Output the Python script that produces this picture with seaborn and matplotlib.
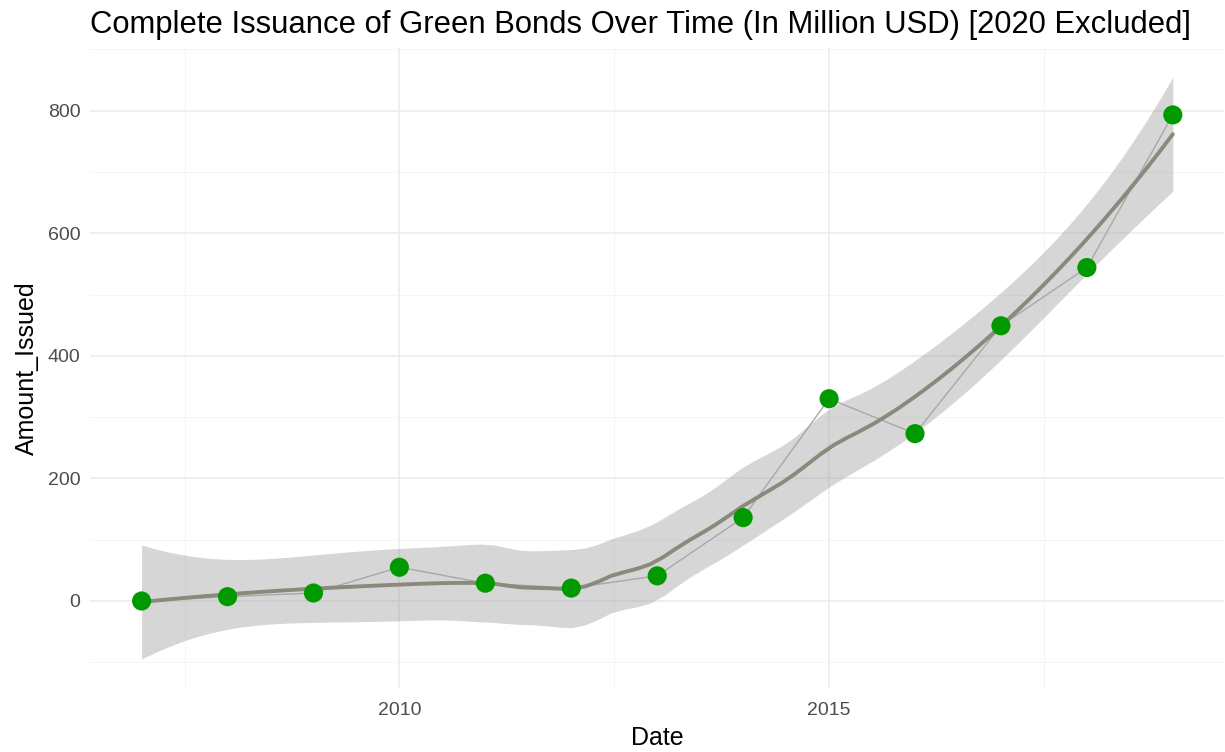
import math
import numpy as np
import pandas as pd
import matplotlib
matplotlib.use("Agg")
import matplotlib.pyplot as plt
from matplotlib.ticker import MultipleLocator
import seaborn as sns

# ---- data ----
years = [2007, 2008, 2009, 2010, 2011, 2012, 2013, 2014, 2015, 2016, 2017, 2018, 2019]
amount_issued = [0, 7, 13, 55, 29, 21, 41, 136, 330, 273, 449, 544, 793]
title = "Complete Issuance of Green Bonds Over Time (In Million USD) [2020 Excluded]"

df = pd.DataFrame({"Date": years, "Amount_Issued": amount_issued})


# ---- loess (degree 2, span 0.75) with confidence band, like geom_smooth ----
def loess_operator(x, xs, span=0.75):
    n = len(x)
    q = int(np.floor(n * span))
    L = np.zeros((len(xs), n))
    for i, x0 in enumerate(xs):
        d = np.abs(x - x0)
        h = np.sort(d)[q - 1] * 1.0000001
        w = np.clip(1 - (d / h) ** 3, 0, None) ** 3
        X = np.column_stack([np.ones(n), x - x0, (x - x0) ** 2])
        W = np.diag(w)
        A = X.T @ W @ X
        L[i] = np.linalg.solve(A, X.T @ W)[0]
    return L


def t_quantile(p, dof):
    c = math.gamma((dof + 1) / 2) / (math.sqrt(dof * math.pi) * math.gamma(dof / 2))
    t = np.linspace(0, 20, 200001)
    pdf = c * (1 + t ** 2 / dof) ** (-(dof + 1) / 2)
    cdf = 0.5 + np.concatenate([[0], np.cumsum((pdf[1:] + pdf[:-1]) / 2 * np.diff(t))])
    return float(np.interp(p, cdf, t))


x = df["Date"].to_numpy(float)
y = df["Amount_Issued"].to_numpy(float)
Lhat = loess_operator(x, x)
resid = y - Lhat @ y
IL = np.eye(len(x)) - Lhat
M = IL.T @ IL
one_delta = np.trace(M)
two_delta = np.trace(M @ M)
sigma = math.sqrt(np.sum(resid ** 2) / one_delta)
rdf = one_delta ** 2 / two_delta
tq = t_quantile(0.975, rdf)

xs = np.linspace(x.min(), x.max(), 80)
Ls = loess_operator(x, xs)
fit = Ls @ y
se = sigma * np.sqrt(np.sum(Ls ** 2, axis=1))
smooth = pd.DataFrame({"Date": xs, "fit": fit, "lo": fit - tq * se, "hi": fit + tq * se})

# ---- plot ----
sns.set_theme(style="white")
plt.rcParams["font.family"] = ["Liberation Sans", "DejaVu Sans"]

fig = plt.figure(figsize=(12.25, 7.52), dpi=100)
ax = fig.add_axes([0.0735, 0.085, 0.926, 0.851])

ax.fill_between(smooth["Date"], smooth["lo"], smooth["hi"], color="#999999", alpha=0.4,
                linewidth=0, zorder=2)
sns.lineplot(data=df, x="Date", y="Amount_Issued", ax=ax, color="#a8a8a8", linewidth=1.0,
             zorder=3)
sns.lineplot(data=smooth, x="Date", y="fit", ax=ax, color="#8a8a7c", linewidth=2.8, zorder=4)
sns.scatterplot(data=df, x="Date", y="Amount_Issued", ax=ax, color="#009a00", s=190,
                edgecolor="none", zorder=5)

# ggplot-like 5% expansion
xr = x.max() - x.min()
ax.set_xlim(x.min() - 0.05 * xr, x.max() + 0.05 * xr)
ymin = min(smooth["lo"].min(), y.min())
ymax = max(smooth["hi"].max(), y.max())
yr = ymax - ymin
ax.set_ylim(ymin - 0.05 * yr, ymax + 0.05 * yr)

ax.xaxis.set_major_locator(MultipleLocator(5))
ax.xaxis.set_minor_locator(MultipleLocator(2.5))
ax.yaxis.set_major_locator(MultipleLocator(200))
ax.yaxis.set_minor_locator(MultipleLocator(100))
ax.grid(True, which="major", color="#ebebeb", linewidth=1.1, zorder=0)
ax.grid(True, which="minor", color="#f2f2f2", linewidth=0.6, zorder=0)
ax.set_axisbelow(True)
for s in ax.spines.values():
    s.set_visible(False)
ax.tick_params(which="both", length=0)
ax.tick_params(axis="both", labelsize=14, labelcolor="#4d4d4d")
ax.tick_params(axis="y", pad=7)
ax.tick_params(axis="x", pad=10)

ax.set_xlabel("Date", fontsize=18, color="black", labelpad=5)
ax.set_ylabel("Amount_Issued", fontsize=18, color="black", labelpad=6)
ax.set_title(title, loc="left", fontsize=22.3, color="black", pad=11)

fig.savefig("out.png", dpi=100)
